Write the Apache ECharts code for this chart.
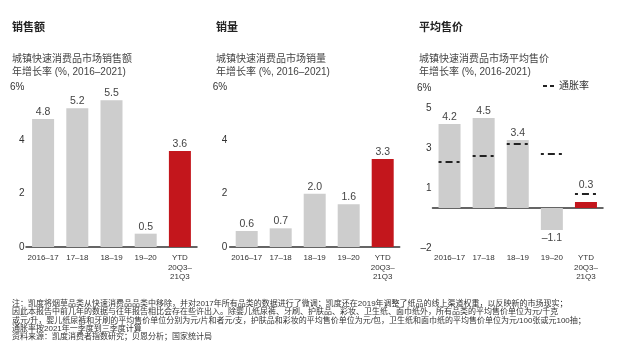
<!DOCTYPE html>
<html>
<head>
<meta charset="utf-8">
<script src="https://cdn.jsdelivr.net/npm/echarts@6/dist/echarts.min.js"></script>
<style>
html,body{margin:0;padding:0;background:#fff;}
#c{width:641px;height:357px;}
</style>
</head>
<body>
<div id="c"></div>
<script>
const categories = ['2016–17', '17–18', '18–19', '19–20', 'YTD\n20Q3–\n21Q3'];
const salesValueGrowth = [4.8, 5.2, 5.5, 0.5, 3.6];
const salesVolumeGrowth = [0.6, 0.7, 2.0, 1.6, 3.3];
const avgPriceGrowth = [4.2, 4.5, 3.4, -1.1, 0.3];
const inflationRate = [2.3, 2.6, 3.2, 2.7, 0.7];
const yTickLabels12 = {'6': '6%', '4': '4', '2': '2', '0': '0'};
const yTickLabels3 = {'6': '6%', '5': '5', '3': '3', '1': '1', '-2': '–2'};
const panelTitles = ['销售额', '销量', '平均售价'];
const panelSubtitles = [
  '城镇快速消费品市场销售额\n年增长率 (%, 2016–2021)',
  '城镇快速消费品市场销量\n年增长率 (%, 2016–2021)',
  '城镇快速消费品市场平均售价\n年增长率 (%, 2016-2021)'
];
const footnoteLines = [
  '注：凯度将烟草品类从快速消费品品类中移除，并对2017年所有品类的数据进行了微调；凯度还在2019年调整了纸品的线上渠道权重，以反映新的市场现实；',
  '因此本报告中前几年的数据与往年报告相比会存在些许出入。除婴儿纸尿裤、牙刷、护肤品、彩妆、卫生纸、面巾纸外，所有品类的平均售价单位为元/千克',
  '或元/升，婴儿纸尿裤和牙刷的平均售价单位分别为元/片和者元/支，护肤品和彩妆的平均售价单位为元/包，卫生纸和面巾纸的平均售价单位为元/100张或元100抽；',
  '通胀率按2021年一季度到三季度计算',
  '资料来源：凯度消费者指数研究；贝恩分析；国家统计局'
];

const FONT = '"Liberation Sans", Arial, "Noto Sans CJK SC", sans-serif';
const GRAY = '#cdcdcd';
const RED = '#c3161c';
const lastIdx = categories.length - 1;

const chart = echarts.init(document.getElementById('c'), null, {renderer: 'canvas'});

const titleLefts = [12, 216, 419];
const titles = panelTitles.map((t, i) => ({
  left: titleLefts[i], top: 21, padding: 0, itemGap: 18,
  text: t, subtext: panelSubtitles[i],
  textStyle: {fontSize: 11, fontWeight: 'bold', color: '#222', lineHeight: 14, fontFamily: FONT},
  subtextStyle: {fontSize: 10, lineHeight: 13, color: '#444', fontFamily: FONT}
}));

const footnoteGraphics = footnoteLines.map((line, i) => ({
  type: 'text', x: 12, y: 304 + i * 8.25, silent: true,
  style: {
    text: line, fill: '#333', fontSize: 8, fontFamily: FONT,
    verticalAlign: 'middle', align: 'left'
  }
}));

const grids = [
  {left: 26, top: 87, width: 171, height: 160},
  {left: 229.7, top: 87, width: 170, height: 160},
  {left: 432.5, top: 88, width: 170.5, height: 160}
];

function catAxis(gi, extra) {
  return Object.assign({
    type: 'category', gridIndex: gi, data: categories,
    axisTick: {show: false},
    axisLine: {show: true, lineStyle: {color: '#333', width: 1.5}},
    axisLabel: {fontSize: 8, lineHeight: 9.2, color: '#333', margin: 6.5, fontFamily: FONT, interval: 0}
  }, extra || {});
}

const xAxes = [
  catAxis(0),
  catAxis(1),
  catAxis(2, {axisLine: {show: false, onZero: false}, axisLabel: {fontSize: 8, lineHeight: 9.2, color: '#333', margin: 5.5, fontFamily: FONT, interval: 0}}),
  catAxis(2, {axisLine: {show: true, onZero: true, lineStyle: {color: '#333', width: 1.5}}, axisLabel: {show: false}})
];

function valAxis(gi, min, max, interval, labels, margin) {
  return {
    type: 'value', gridIndex: gi, min: min, max: max, interval: interval,
    splitLine: {show: false}, axisLine: {show: false}, axisTick: {show: false},
    axisLabel: {
      fontSize: 10, color: '#333', margin: margin, fontFamily: FONT,
      formatter: v => (labels[String(v)] !== undefined ? labels[String(v)] : '')
    }
  };
}
const yAxes = [
  valAxis(0, 0, 6, 2, yTickLabels12, 1.5),
  valAxis(1, 0, 6, 2, yTickLabels12, 2.5),
  valAxis(2, -2, 6, 1, yTickLabels3, 1)
];

function fmt1(v) { const s = Math.abs(v).toFixed(1); return v < 0 ? '–' + s : s; }

function barSeries(values, gi, xi) {
  return {
    type: 'bar', xAxisIndex: xi, yAxisIndex: gi, barWidth: 22,
    data: values.map((v, i) => {
      const item = {value: v, itemStyle: {color: i === lastIdx ? RED : GRAY}};
      if (v < 0) item.label = {position: 'bottom', distance: 3};
      return item;
    }),
    label: {
      show: true, position: 'top', distance: 1.5, fontSize: 10.5, color: '#444', fontFamily: FONT,
      formatter: p => fmt1(p.value)
    },
    silent: true, animation: false
  };
}

const avgBars = barSeries(avgPriceGrowth, 2, 2);
// YTD label sits above the inflation marker
avgBars.data[lastIdx].label = {distance: 12};

const series = [
  barSeries(salesValueGrowth, 0, 0),
  barSeries(salesVolumeGrowth, 1, 1),
  avgBars,
  {
    type: 'custom', name: '通胀率', xAxisIndex: 2, yAxisIndex: 2,
    color: '#222',
    data: inflationRate.map((v, i) => [i, v]),
    renderItem: function (params, api) {
      const p = api.coord([api.value(0), api.value(1)]);
      const w = 22;
      return {
        type: 'line',
        shape: {x1: p[0] - w / 2, y1: p[1], x2: p[0] + w / 2, y2: p[1]},
        style: {stroke: '#222', lineWidth: 2, lineDash: [3, 4, 7, 4]}
      };
    },
    silent: true, animation: false, z: 5
  }
];

chart.setOption({
  animation: false,
  backgroundColor: '#fff',
  textStyle: {fontFamily: FONT},
  title: titles,
  graphic: footnoteGraphics,
  legend: {
    left: 543, top: 81, padding: 0, itemWidth: 11, itemHeight: 2, itemGap: 6,
    textStyle: {fontSize: 10, color: '#333', fontFamily: FONT},
    data: [{name: '通胀率', icon: 'path://M0,0H4V2H0Z M7,0H11V2H7Z'}],
    selectedMode: false
  },
  grid: grids,
  xAxis: xAxes,
  yAxis: yAxes,
  series: series
});
</script>
</body>
</html>
